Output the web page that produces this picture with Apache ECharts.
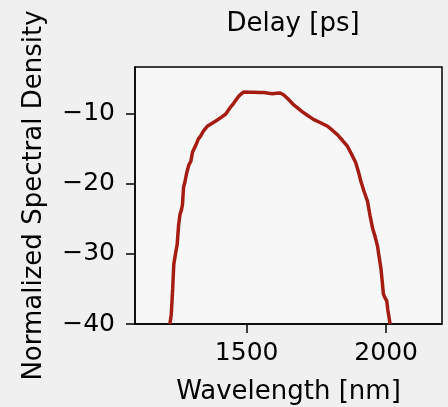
<!DOCTYPE html>
<html>
<head>
<meta charset="utf-8">
<script src="https://cdn.jsdelivr.net/npm/echarts@6/dist/echarts.min.js"></script>
<style>
  html, body { margin: 0; padding: 0; background: #f0f0f0; }
  #chart { width: 448px; height: 407px; }
</style>
</head>
<body>
<div id="chart"></div>
<script>
// wavelength samples [nm]
const wavelengths = [1225, 1230, 1235, 1239, 1245, 1251, 1256, 1261, 1266, 1270, 1274, 1278, 1285, 1293,
    1300, 1306, 1313, 1320, 1327, 1335, 1345, 1359, 1375, 1395, 1410, 1425, 1440, 1454, 1470, 1480,
    1490, 1510, 1526, 1545, 1562, 1580, 1592, 1606, 1620, 1632, 1646, 1670, 1700, 1720, 1741, 1765,
    1790, 1808, 1825, 1843, 1861, 1876, 1891, 1900, 1909, 1920, 1933, 1942, 1951, 1960, 1969, 1975,
    1981, 1986, 1990, 1995, 2002, 2006, 2010, 2014];
// normalized spectral density [dB]
const density = [-40, -38.6, -35, -31.5, -30, -28.7, -26, -24.4, -23.8, -23, -20.5, -19.9, -18.5, -17.3,
    -16.8, -15.5, -14.9, -14.3, -13.6, -13.2, -12.5, -11.8, -11.4, -10.9, -10.5, -10.05, -9.2, -8.5, -7.6, -7.2,
    -6.9, -6.95, -6.95, -7.0, -7.0, -7.1, -7.15, -7.1, -7.05, -7.3, -7.8, -8.8, -9.75, -10.3, -10.85, -11.3,
    -11.8, -12.4, -13, -13.8, -14.65, -15.8, -17, -18.2, -19.6, -21, -22.5, -24.5, -26.3, -27.5, -28.9, -30.5,
    -32, -34, -35.7, -36.2, -36.7, -38, -39, -40];
const xTicks = [1500, 2000];
const yTicks = [-40, -30, -20, -10];

const font = 'DejaVu Sans';
const minus = v => String(v).replace('-', '\u2212');

const chart = echarts.init(document.getElementById('chart'));
chart.setOption({
    animation: false,
    backgroundColor: '#f0f0f0',
    title: {
        text: 'Delay [ps]',
        left: 288,
        top: 6,
        textAlign: 'center',
        textStyle: { fontFamily: font, fontSize: 26, fontWeight: 'normal', color: '#000' }
    },
    grid: {
        left: 135,
        right: 6,
        top: 67,
        bottom: 83,
        outerBoundsMode: 'none',
        containLabel: false,
        show: true,
        backgroundColor: '#f7f7f7',
        borderColor: '#000',
        borderWidth: 1.5
    },
    xAxis: {
        type: 'value',
        min: 1100,
        max: 2200,
        name: 'Wavelength [nm]',
        nameLocation: 'middle',
        nameGap: 55,
        nameTextStyle: { fontFamily: font, fontSize: 26, color: '#000' },
        axisLine: { show: true, lineStyle: { color: '#000', width: 1.5 } },
        axisTick: { show: true, length: 9, lineStyle: { color: '#000', width: 1.5 }, customValues: xTicks },
        axisLabel: { fontFamily: font, fontSize: 25, color: '#000', margin: 17, customValues: xTicks, formatter: v => String(v) },
        splitLine: { show: false }
    },
    yAxis: {
        type: 'value',
        min: -40,
        max: -3.35,
        name: 'Normalized Spectral Density',
        nameLocation: 'middle',
        nameGap: 88,
        nameTextStyle: { fontFamily: font, fontSize: 26, color: '#000' },
        axisLine: { show: true, lineStyle: { color: '#000', width: 1.5 } },
        axisTick: { show: true, length: 9, lineStyle: { color: '#000', width: 1.5 }, customValues: yTicks },
        axisLabel: { fontFamily: font, fontSize: 25, color: '#000', margin: 20, customValues: yTicks, formatter: minus },
        splitLine: { show: false }
    },
    series: [{
        type: 'line',
        data: wavelengths.map((w, i) => [w, density[i]]),
        showSymbol: false,
        clip: true,
        lineStyle: { color: '#a51d12', width: 3.5 }
    }]
});
</script>
</body>
</html>
